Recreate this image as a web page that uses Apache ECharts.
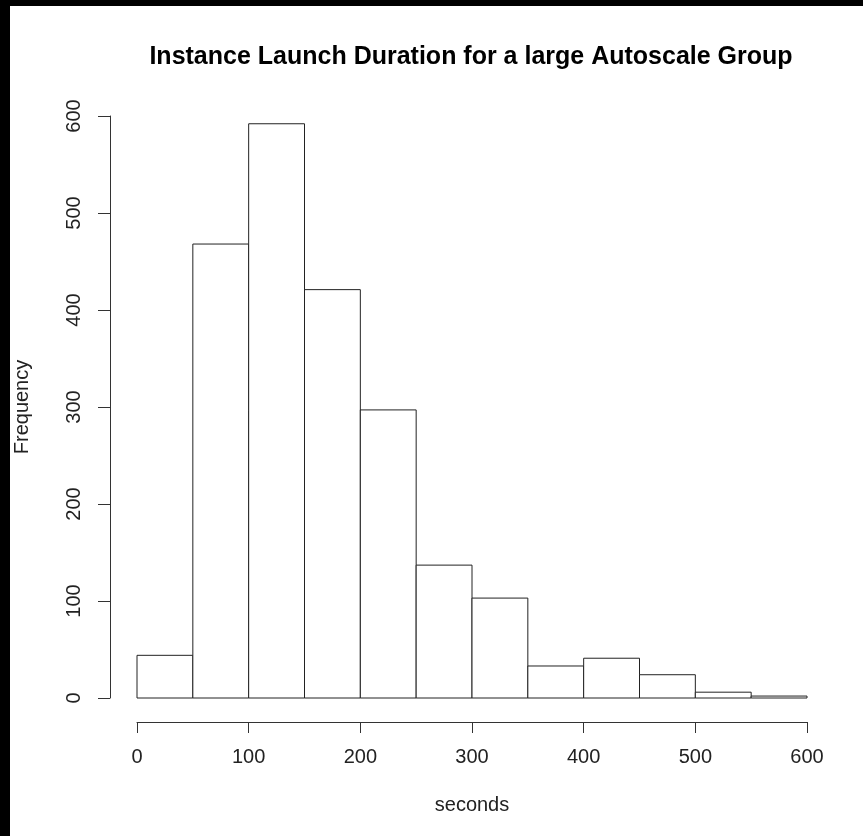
<!DOCTYPE html>
<html><head><meta charset="utf-8">
<script src="https://cdn.jsdelivr.net/npm/echarts@6/dist/echarts.min.js"></script>
<style>
html,body{margin:0;padding:0;background:#000;width:863px;height:836px;overflow:hidden}
#c{position:absolute;left:10px;top:6px;width:853px;height:830px;background:#fff}
</style></head>
<body><div id="c"></div>
<script>
const binStarts = [0, 50, 100, 150, 200, 250, 300, 350, 400, 450, 500, 550];
const binWidth = 50;
const counts = [44, 468, 592, 421, 297, 137, 103, 33, 41, 24, 6, 2];
const xTicks = [0, 100, 200, 300, 400, 500, 600];
const yTicks = [0, 100, 200, 300, 400, 500, 600];
const titleText = 'Instance Launch Duration for a large Autoscale Group';
const xName = 'seconds';
const yName = 'Frequency';

const data = binStarts.map((s, i) => [s, s + binWidth, counts[i]]);
const font = '"Liberation Sans", Arial, Helvetica, sans-serif';
const chart = echarts.init(document.getElementById('c'), null, {renderer: 'canvas'});
chart.setOption({
  animation: false,
  backgroundColor: '#fff',
  title: {
    text: titleText, left: 456, top: 34, textAlign: 'center',
    textStyle: {fontFamily: font, fontWeight: 'bold', fontSize: 25, color: '#000'}
  },
  grid: {left: 127, right: 56, top: 110, bottom: 138, containLabel: false, outerBoundsMode: 'none'},
  xAxis: {
    type: 'value', min: xTicks[0], max: xTicks[xTicks.length - 1], interval: 100,
    offset: 24,
    name: xName, nameLocation: 'middle', nameGap: 73,
    nameTextStyle: {fontFamily: font, fontSize: 20, color: '#222'},
    axisLine: {show: true, onZero: false, lineStyle: {color: '#333', width: 1}},
    axisTick: {show: true, length: 11, lineStyle: {color: '#333'}},
    axisLabel: {fontFamily: font, fontSize: 20, color: '#222', margin: 25},
    splitLine: {show: false}
  },
  yAxis: {
    type: 'value', min: yTicks[0], max: yTicks[yTicks.length - 1], interval: 100,
    offset: 27,
    name: yName, nameLocation: 'middle', nameGap: 78, nameRotate: 90,
    nameTextStyle: {fontFamily: font, fontSize: 20, color: '#222'},
    axisLine: {show: true, onZero: false, lineStyle: {color: '#333', width: 1}},
    axisTick: {show: true, length: 12, lineStyle: {color: '#333'}},
    axisLabel: {fontFamily: font, fontSize: 20, color: '#222', rotate: 90, margin: 26},
    splitLine: {show: false}
  },
  series: [{
    type: 'custom',
    data: data,
    encode: {x: [0, 1], y: 2},
    renderItem: function (params, api) {
      const p0 = api.coord([api.value(0), 0]);
      const p1 = api.coord([api.value(1), api.value(2)]);
      return {
        type: 'rect',
        shape: {x: p0[0], y: p1[1], width: p1[0] - p0[0], height: p0[1] - p1[1]},
        style: {fill: '#fff', stroke: '#222', lineWidth: 1}
      };
    }
  }]
});
</script></body></html>
